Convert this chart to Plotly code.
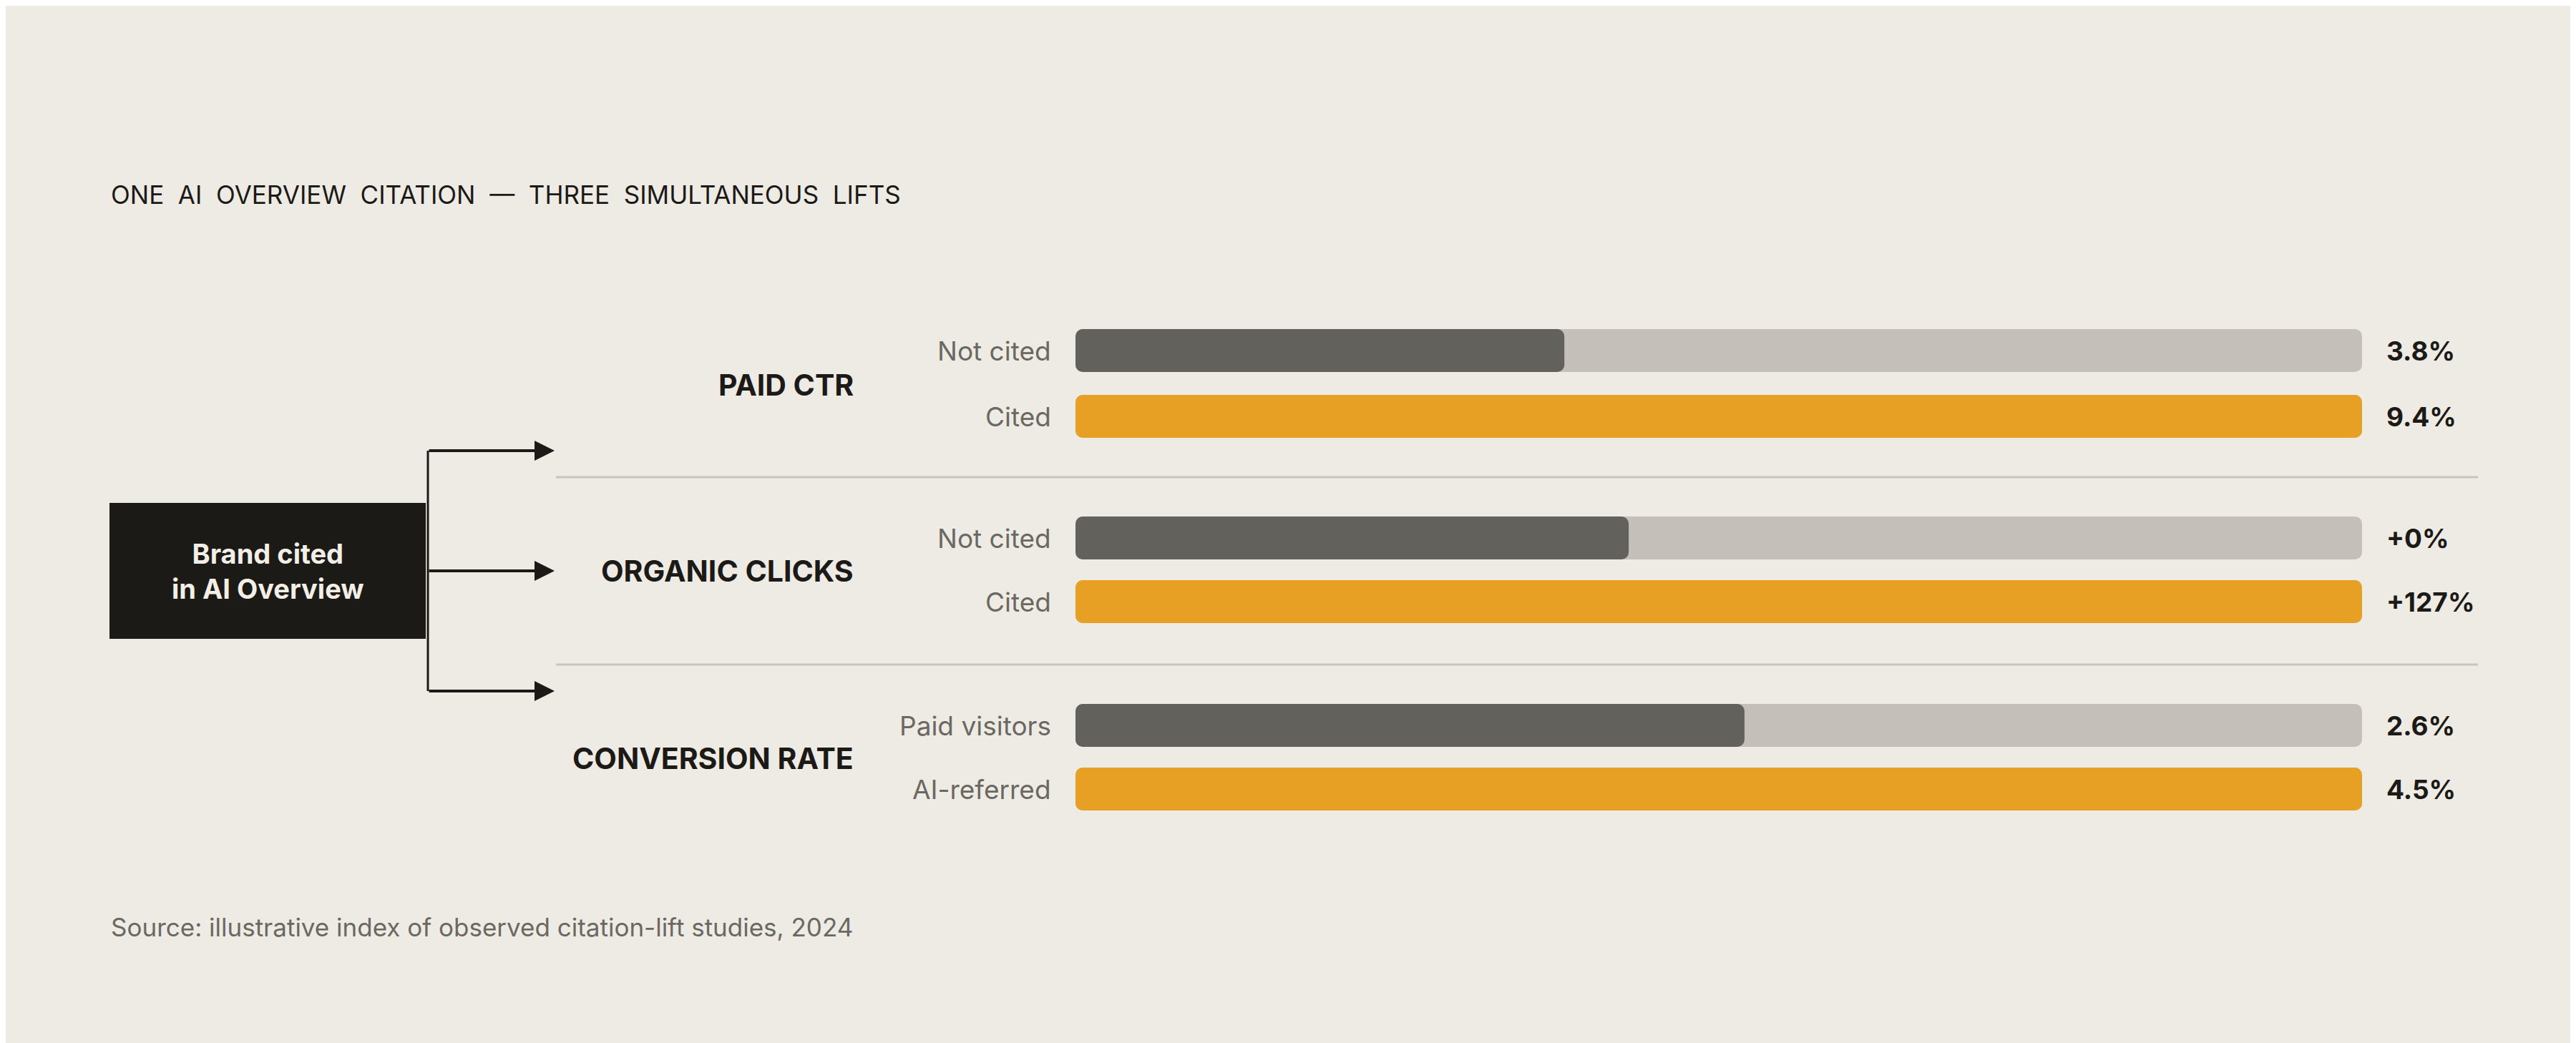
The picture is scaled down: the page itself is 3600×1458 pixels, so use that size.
import plotly.graph_objects as go

groups = ["PAID CTR", "ORGANIC CLICKS", "CONVERSION RATE"]
row_labels = ["Not cited", "Cited", "Not cited", "Cited", "Paid visitors", "AI-referred"]
value_labels = ["3.8%", "9.4%", "+0%", "+127%", "2.6%", "4.5%"]
bar_fill = [0.38, 1.0, 0.43, 1.0, 0.52, 1.0]  # fraction of track filled
row_kind = ["base", "lift", "base", "lift", "base", "lift"]

W, H = 3600, 1458
BG = "#eeebe5"
TRACK = "#c4c0b9"
DARK = "#63615c"
GOLD = "#e8a024"
INK = "#1c1a17"
GREY = "#6b6862"
FONT = "Inter"

x0, x1 = 1495, 3293
row_y = [482, 574, 744, 833, 1006, 1095]
group_y = [530, 790, 1052]
sep_y = [659, 921]
arrow_y = [622, 790, 958]
bar_h = 60

fig = go.Figure()
# tracks
fig.add_trace(go.Bar(orientation="h", y=row_y, x=[x1 - x0] * len(row_y), base=x0,
                     width=bar_h, marker=dict(color=TRACK, cornerradius=10, line_width=0),
                     hoverinfo="skip", showlegend=False))
# fills
fig.add_trace(go.Bar(orientation="h", y=row_y, x=[f * (x1 - x0) for f in bar_fill], base=x0,
                     width=bar_h,
                     marker=dict(color=[DARK if k == "base" else GOLD for k in row_kind],
                                 cornerradius=10, line_width=0),
                     hoverinfo="skip", showlegend=False))

ann = []
for y, lab, val in zip(row_y, row_labels, value_labels):
    ann.append(dict(x=1463, y=y, text=lab, xanchor="right", yanchor="middle", showarrow=False,
                    font=dict(family=FONT, size=37, color=GREY)))
    ann.append(dict(x=3325, y=y, text="<b>" + val + "</b>", xanchor="left", yanchor="middle",
                    showarrow=False, font=dict(family=FONT, size=37, color=INK)))
for y, g in zip(group_y, groups):
    ann.append(dict(x=1187, y=y, text="<b>" + g + "</b>", xanchor="right", yanchor="middle",
                    showarrow=False, font=dict(family=FONT, size=41, color=INK)))
ann.append(dict(x=145, y=264, text="ONE  AI  OVERVIEW  CITATION  —  THREE  SIMULTANEOUS  LIFTS",
                xanchor="left", yanchor="middle", showarrow=False,
                font=dict(family=FONT, size=35, color=INK)))
ann.append(dict(x=145, y=1288, text="Source: illustrative index of observed citation-lift studies, 2024",
                xanchor="left", yanchor="middle", showarrow=False,
                font=dict(family=FONT, size=35, color=GREY)))
ann.append(dict(x=366, y=790, text="<b>Brand cited<br>in AI Overview</b>", xanchor="center",
                yanchor="middle", showarrow=False, align="center",
                font=dict(family=FONT, size=38, color="#f3efe6")))
for y in arrow_y:
    ann.append(dict(x=767, y=y, ax=590, ay=y, xref="x", yref="y", axref="x", ayref="y",
                    text="", showarrow=True, arrowhead=2, arrowsize=1.4, arrowwidth=4,
                    arrowcolor=INK, standoff=0))

shapes = [
    dict(type="rect", x0=145, x1=587, y0=695, y1=885, fillcolor=INK, line_width=0,
         layer="below", xref="x", yref="y"),
    dict(type="line", x0=590, x1=590, y0=622, y1=958, line=dict(color=INK, width=3),
         xref="x", yref="y"),
]
for y in sep_y:
    shapes.append(dict(type="line", x0=769, x1=3455, y0=y, y1=y,
                       line=dict(color="#c9c5be", width=3), xref="x", yref="y"))

fig.update_layout(
    width=W, height=H, margin=dict(l=0, r=0, t=0, b=0),
    paper_bgcolor=BG, plot_bgcolor=BG, barmode="overlay",
    xaxis=dict(range=[0, W], visible=False, fixedrange=True),
    yaxis=dict(range=[H, 0], visible=False, fixedrange=True),
    annotations=ann, shapes=shapes,
)
fig.write_html("out.html")
